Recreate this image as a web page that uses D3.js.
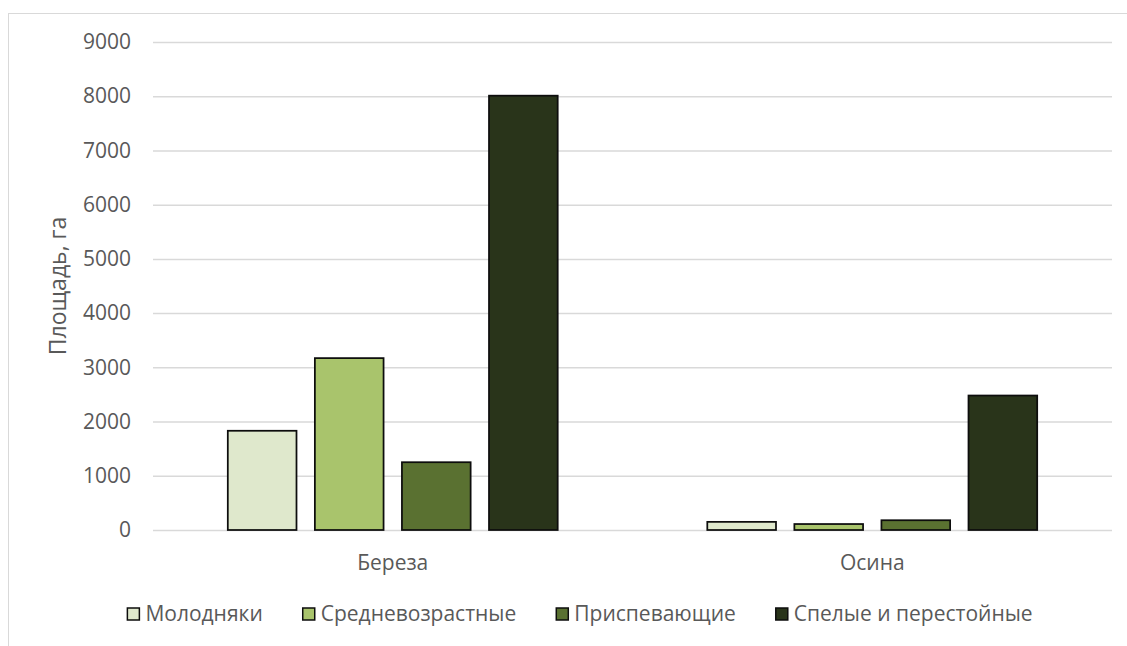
<!DOCTYPE html>
<html lang="ru">
<head>
<meta charset="UTF-8">
<title>Площадь по группам возраста</title>
<style>
  body { margin: 0; background: #fff; }
  text { font-family: "Open Sans", "Noto Sans", sans-serif; fill: #595959; }
</style>
</head>
<body>
<div id="container"></div>
<script src="https://d3js.org/d3.v7.min.js"></script>
<script>
// data
var species = ["Береза", "Осина"];
var groups = ["Молодняки", "Средневозрастные", "Приспевающие", "Спелые и перестойные"];
var birch = [1830, 3170, 1250, 8010];
var aspen = [150, 110, 180, 2480];
var yTicks = [0, 1000, 2000, 3000, 4000, 5000, 6000, 7000, 8000, 9000];
var colors = ["#dfe8cc", "#a9c46c", "#5a7131", "#29341a"];

var width = 1127, height = 646;
var margin = {top: 42, right: 15, bottom: 116, left: 153};
var plotW = 1112 - margin.left, plotH = 530 - margin.top;

var rows = species.map(function(s, i) {
  var vals = i === 0 ? birch : aspen;
  return {name: s, values: groups.map(function(g, j) { return {key: g, value: vals[j]}; })};
});

var svg = d3.select("#container").append("svg")
    .attr("width", width)
    .attr("height", height);

// chart frame
svg.append("rect")
    .attr("x", 8.5).attr("y", 13.5)
    .attr("width", 1200).attr("height", 700)
    .attr("fill", "none").attr("stroke", "#d9d9d9");

var g = svg.append("g").attr("transform", "translate(" + margin.left + "," + margin.top + ")");

var x0 = d3.scaleBand().domain(species).range([0, plotW]).paddingInner(0.312).paddingOuter(0.156);
var x1 = d3.scaleBand().domain(groups).range([0, x0.bandwidth()]).paddingInner(0.211);
var y = d3.scaleLinear().domain([0, 9000]).range([plotH, 0]);
var z = d3.scaleOrdinal().domain(groups).range(colors);

// gridlines + tick labels
var yAxis = g.append("g")
    .call(d3.axisLeft(y).tickValues(yTicks).tickSize(-plotW).tickPadding(22).tickFormat(d3.format("d")));
yAxis.select(".domain").remove();
yAxis.selectAll(".tick line").attr("stroke", "#d9d9d9").attr("stroke-width", 1.5);
yAxis.selectAll(".tick text")
    .attr("font-size", 21)
    .attr("fill", "#595959")
    .style("font-family", "'Open Sans', sans-serif");

// bars
g.append("g").selectAll("g")
  .data(rows)
  .enter().append("g")
    .attr("transform", function(d) { return "translate(" + x0(d.name) + ",0)"; })
  .selectAll("rect")
  .data(function(d) { return d.values; })
  .enter().append("rect")
    .attr("x", function(d) { return x1(d.key); })
    .attr("y", function(d) { return y(d.value); })
    .attr("width", x1.bandwidth())
    .attr("height", function(d) { return plotH - y(d.value); })
    .attr("fill", function(d) { return z(d.key); })
    .attr("stroke", "#0d0d0d")
    .attr("stroke-width", 1.75);

// category labels
g.append("g").selectAll("text")
  .data(species)
  .enter().append("text")
    .attr("x", function(d) { return x0(d) + x0.bandwidth() / 2; })
    .attr("y", plotH + 40)
    .attr("text-anchor", "middle")
    .attr("font-size", 21)
    .text(function(d) { return d; });

// y axis title
svg.append("text")
    .attr("transform", "translate(66," + (margin.top + plotH / 2) + ") rotate(-90)")
    .attr("text-anchor", "middle")
    .attr("font-size", 23)
    .text("Площадь, га");

// legend
var legend = svg.append("g").attr("transform", "translate(0,614)");
var items = legend.selectAll("g").data(groups).enter().append("g");
items.append("rect")
    .attr("width", 12).attr("height", 12).attr("y", -6)
    .attr("fill", function(d) { return z(d); })
    .attr("stroke", "#0d0d0d").attr("stroke-width", 1.5);
items.append("text")
    .attr("x", 18)
    .attr("dy", "0.35em")
    .attr("font-size", 21)
    .text(function(d) { return d; });

var gap = 40, pos = 0, offs = [];
items.each(function() {
  offs.push(pos);
  pos += this.getBBox().width + gap;
});
var total = pos - gap;
var start = 580 - total / 2;
items.attr("transform", function(d, i) { return "translate(" + (start + offs[i]) + ",0)"; });
</script>
</body>
</html>
